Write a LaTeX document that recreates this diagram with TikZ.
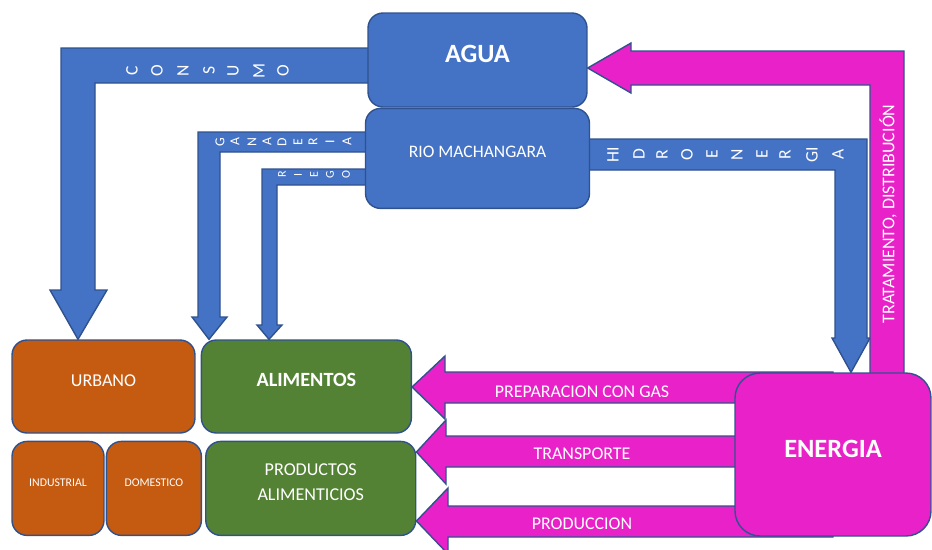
\documentclass[tikz,border=0pt]{standalone}
\usepackage{fontspec}
\setmainfont{Carlito}
\usepackage{xcolor}
\usetikzlibrary{positioning,calc,backgrounds}

\definecolor{aguablue}{RGB}{68,114,196}
\definecolor{edgeblue}{RGB}{47,82,143}
\definecolor{urbanorange}{RGB}{197,90,17}
\definecolor{foodgreen}{RGB}{84,130,53}
\definecolor{energymag}{RGB}{232,34,200}

\begin{document}
\begin{tikzpicture}[x=0.02cm, y=-0.02cm,
    box/.style={rounded corners=0.3cm, draw=edgeblue, line width=0.8pt, text=white,
        inner sep=0pt, align=center, text depth=7pt},
    bluebox/.style={box, fill=aguablue},
    orangebox/.style={box, fill=urbanorange},
    greenbox/.style={box, fill=foodgreen},
    magbox/.style={box, fill=energymag, rounded corners=0.5cm},
    bluearr/.style={fill=aguablue, draw=edgeblue, line width=0.8pt},
    magarr/.style={fill=energymag, draw=edgeblue, line width=0.8pt},
    arrtext/.style={text=white, inner sep=0pt, font=\fontsize{10.2}{12}\selectfont},
    spaced/.style={text=white, rotate=90, inner sep=0pt}]

    \useasboundingbox (0,0) rectangle (932,549);

    % boxes
    \node[bluebox, minimum width=4.38cm, minimum height=1.88cm,
        font=\fontsize{15}{18}\selectfont\bfseries] (agua) at (477.5,60) {AGUA};
    \node[bluebox, minimum width=4.48cm, minimum height=2cm,
        font=\fontsize{10}{12}\selectfont, below=0pt of agua] (rio) {RIO MACHANGARA};
    \node[orangebox, minimum width=3.66cm, minimum height=1.86cm,
        font=\fontsize{10.3}{12}\selectfont] (urbano) at (103.5,386.5) {URBANO};
    \node[greenbox, minimum width=4.2cm, minimum height=1.86cm,
        font=\fontsize{11.5}{14}\selectfont\bfseries, right=0.1cm of urbano] (alimentos) {ALIMENTOS};
    \node[orangebox, minimum width=1.84cm, minimum height=1.88cm,
        font=\fontsize{6.7}{8}\selectfont,
        below right=0.14cm and 0cm of urbano.south west] (industrial) {INDUSTRIAL};
    \node[orangebox, minimum width=1.9cm, minimum height=1.88cm,
        font=\fontsize{6.7}{8}\selectfont, right=0.02cm of industrial] (domestico) {DOMESTICO};
    \node[greenbox, minimum width=4.2cm, minimum height=1.88cm,
        font=\fontsize{10.3}{14}\selectfont, right=0.06cm of domestico] (productos) {PRODUCTOS\\ALIMENTICIOS};
    \node[magbox, minimum width=3.92cm, minimum height=3.26cm,
        font=\fontsize{15}{18}\selectfont\bfseries] (energia) at (833,454.5) {ENERGIA};

    % block arrows under the boxes
    \begin{scope}[on background layer]
    % agua -> urbano
    \draw[bluearr] (agua.center |- 0,48) -- (61,48) -- (61,290) -- (50,290)
        -- (78,0 |- urbano.north) -- (107,290) -- (95,290) -- (95,83)
        -- (agua.center |- 0,83) -- cycle;
    % rio -> alimentos
    \draw[bluearr] (rio.center |- 0,132) -- (198,132) -- (198,317) -- (192,317)
        -- (209,0 |- alimentos.north) -- (227,317) -- (220,317) -- (220,152)
        -- (rio.center |- 0,152) -- cycle;
    \draw[bluearr] (rio.center |- 0,169) -- (262,169) -- (262,325) -- (257,325)
        -- (269,0 |- alimentos.north) -- (282,325) -- (277,325) -- (277,185)
        -- (rio.center |- 0,185) -- cycle;
    % rio -> energia
    \draw[bluearr] (rio.center |- 0,139) -- (867,139) -- (867,338) -- (870,338)
        -- (851,0 |- energia.north) -- (832,338) -- (835,338) -- (835,170)
        -- (rio.center |- 0,170) -- cycle;
    % energia -> agua
    \draw[magarr] (870,0 |- energia.center) -- (870,85) -- (631,85) -- (631,93)
        -- (agua.east |- 0,68) -- (631,43) -- (631,51) -- (904,51)
        -- (904,0 |- energia.center) -- cycle;
    % energia -> alimentos, productos
    \draw[magarr] (energia.center |- 0,372) -- (445,372) -- (445,356)
        -- (alimentos.east |- 0,387) -- (445,419) -- (445,403)
        -- (energia.center |- 0,403) -- cycle;
    \draw[magarr] (energia.center |- 0,436) -- (446,436) -- (446,420)
        -- (productos.east |- 0,452) -- (446,484) -- (446,467)
        -- (energia.center |- 0,467) -- cycle;
    \draw[magarr] (energia.center |- 0,506) -- (448,506) -- (448,488)
        -- (productos.east |- 0,521) -- (448,554) -- (448,537)
        -- (energia.center |- 0,537) -- cycle;
    \end{scope}

    % arrow labels
    \begin{scope}
        \clip (445,372) rectangle (734,396);
        \node[arrtext] (preparacion) at (582,392) {PREPARACION CON GAS};
    \end{scope}
    \node[arrtext] (transporte) at (582,454) {TRANSPORTE};
    \node[arrtext] (produccion) at (582,524) {PRODUCCION};
    \node[arrtext, rotate=90] (tratamiento) at (888,214) {TRATAMIENTO, DISTRIBUCIÓN};

    \foreach \l/\x [count=\i] in {C/132,O/157,N/183,S/209,U/233,M/259,O/283}
        \node[spaced, font=\fontsize{10}{11}\selectfont] (cons\i) at (\x,70.5) {\l};
    \foreach \l/\x [count=\i] in {G/220,A/235,N/252,A/267,D/282,E/298,R/313,I/330,A/347}
        \node[spaced, font=\fontsize{7.8}{9}\selectfont] (gan\i) at (\x,142) {\l};
    \foreach \l/\x [count=\i] in {R/282,I/298,E/314,G/330,O/346}
        \node[spaced, font=\fontsize{6.8}{8}\selectfont] (rie\i) at (\x,174.5) {\l};
    \foreach \l/\x [count=\i] in {HI/613,D/639,R/662,O/687,E/712,N/737,E/762,R/785,GI/812,A/838}
        \node[spaced, font=\fontsize{10}{11}\selectfont] (hid\i) at (\x,154.5) {\l};
\end{tikzpicture}
\end{document}
